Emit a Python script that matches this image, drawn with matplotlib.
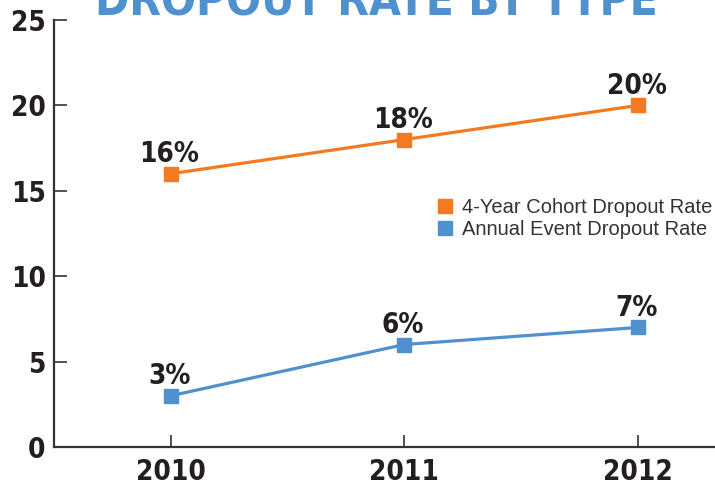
import matplotlib
matplotlib.use('Agg')
import matplotlib.pyplot as plt
from matplotlib import font_manager

years = [2010, 2011, 2012]
cohort_rate = [16, 18, 20]
annual_rate = [3, 6, 7]
cohort_labels = ['16%', '18%', '20%']
annual_labels = ['3%', '6%', '7%']
year_labels = ['2010', '2011', '2012']
y_ticks = [0, 5, 10, 15, 20, 25]

orange = '#f47a20'
blue = '#4f90cf'
ink = '#231f20'


def weight_num(w):
    if isinstance(w, str):
        return font_manager.weight_dict.get(w, 400)
    return w


# pick a narrow bold face if one is installed
cands = []
for f in font_manager.fontManager.ttflist:
    narrowish = ('Narrow' in f.name or 'Condensed' in f.name
                 or f.stretch in ('condensed', 'semi-condensed', 'extra-condensed'))
    if narrowish and weight_num(f.weight) >= 600 and f.style == 'normal':
        cands.append(f)
if cands:
    bold_font = [cands[0].name, 'DejaVu Sans']
    stretch = cands[0].stretch
else:
    bold_font = ['DejaVu Sans']
    stretch = 'normal'

fig = plt.figure(figsize=(7.15, 4.86), dpi=100)
ax = fig.add_axes([54/715, 1-447/486, 1-54/715, 427/486])

ax.plot(years, cohort_rate, color=orange, lw=2.3, marker='s', ms=9.5,
        label='4-Year Cohort Dropout Rate')
ax.plot(years, annual_rate, color=blue, lw=2.3, marker='s', ms=9.5,
        label='Annual Event Dropout Rate')

# value labels above each point
for x, y, lab in zip(years, cohort_rate, cohort_labels):
    ax.annotate(lab, (x, y), xytext=(-1, 4), textcoords='offset points',
                ha='center', va='bottom', fontsize=20, fontweight='bold',
                family=bold_font, fontstretch=stretch, color=ink)
for x, y, lab in zip(years, annual_rate, annual_labels):
    ax.annotate(lab, (x, y), xytext=(-1, 4), textcoords='offset points',
                ha='center', va='bottom', fontsize=20, fontweight='bold',
                family=bold_font, fontstretch=stretch, color=ink)

ax.set_xlim(2009.5, 2012.33)
ax.set_ylim(0, 25)
ax.set_xticks(years)
ax.set_xticklabels(year_labels)
ax.set_yticks(y_ticks)

for side in ['top', 'right']:
    ax.spines[side].set_visible(False)
for side in ['left', 'bottom']:
    ax.spines[side].set_color('#333333')
    ax.spines[side].set_linewidth(1.6)

ax.tick_params(axis='both', direction='in', length=9, width=1.2,
               color='#333333', labelcolor=ink)
ax.tick_params(axis='x', pad=8)
ax.tick_params(axis='y', pad=6)
for lab in ax.get_xticklabels() + ax.get_yticklabels():
    lab.set_fontsize(20)
    lab.set_fontweight('bold')
    lab.set_family(bold_font)
    lab.set_fontstretch(stretch)

leg = ax.legend(loc='upper left', bbox_to_anchor=(460/715 - 54/715, 1 - (190-20)/427),
                bbox_transform=ax.transAxes, frameon=False, handlelength=0.75,
                handletextpad=0.45, labelspacing=0.15, borderaxespad=0,
                prop={'family': 'Liberation Sans', 'size': 14.5})
for h in leg.legend_handles:
    h.set_linestyle('none')
for t in leg.get_texts():
    t.set_color('#333333')

fig.text(376.5/715, 1 - 15/486, 'DROPOUT RATE BY TYPE', ha='center', va='baseline',
         fontsize=33, fontweight='bold', family=bold_font, fontstretch=stretch,
         color=blue)

fig.savefig('out.png', dpi=100)
